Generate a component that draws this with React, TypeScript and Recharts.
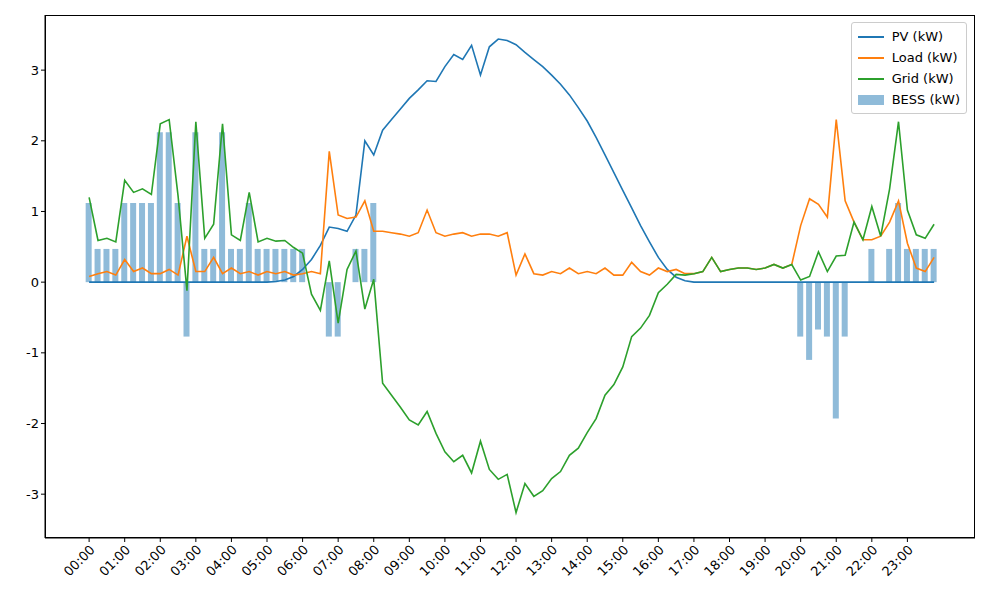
import React from 'react';
import { ComposedChart, Line, Bar, XAxis, YAxis } from 'recharts';

const pv = [0,0,0,0, 0,0,0,0, 0,0,0,0, 0,0,0,0, 0,0,0,0,
  0,0.01,0.03,0.08, 0.18,0.32,0.52,0.78, 0.76,0.72,0.95,2.0, 1.8,2.15,2.3,2.45,
  2.6,2.72,2.85,2.84, 3.05,3.22,3.15,3.35, 2.93,3.33,3.44,3.42, 3.36,3.25,3.15,3.05,
  2.93,2.8,2.65,2.47, 2.28,2.05,1.8,1.55, 1.3,1.05,0.8,0.57, 0.35,0.18,0.07,0.02,
  0,0,0,0, 0,0,0,0, 0,0,0,0, 0,0,0,0, 0,0,0,0, 0,0,0,0, 0,0,0,0];
const load = [0.08,0.12,0.15,0.1, 0.32,0.15,0.2,0.12, 0.12,0.18,0.1,0.65, 0.15,0.15,0.35,0.12,
  0.2,0.12,0.15,0.1, 0.15,0.12,0.15,0.1, 0.12,0.15,0.12,1.85, 0.95,0.9,0.92,1.15,
  0.72,0.72,0.7,0.68, 0.65,0.7,1.02,0.7, 0.65,0.68,0.7,0.65, 0.68,0.68,0.65,0.7,
  0.1,0.4,0.12,0.1, 0.15,0.12,0.2,0.12, 0.15,0.12,0.2,0.1, 0.1,0.28,0.15,0.1,
  0.2,0.15,0.18,0.12, 0.12,0.15,0.35,0.15, 0.18,0.2,0.2,0.18, 0.2,0.25,0.2,0.25,
  0.8,1.18,1.1,0.92, 2.3,1.15,0.85,0.6, 0.6,0.65,0.85,1.15, 0.55,0.2,0.15,0.35];
const grid = [1.2,0.59,0.62,0.57, 1.44,1.27,1.32,1.24, 2.24,2.3,1.22,-0.12, 2.27,0.62,0.82,2.24,
  0.67,0.59,1.27,0.57, 0.62,0.58,0.59,0.49, 0.41,-0.17,-0.4,0.3, -0.58,0.18,0.44,-0.38,
  0.04,-1.43,-1.6,-1.77, -1.95,-2.02,-1.83,-2.14, -2.4,-2.54,-2.45,-2.7, -2.25,-2.65,-2.79,-2.72,
  -3.26,-2.85,-3.03,-2.95, -2.78,-2.68,-2.45,-2.35, -2.13,-1.93,-1.6,-1.45, -1.2,-0.77,-0.65,-0.47,
  -0.15,-0.03,0.11,0.1, 0.12,0.15,0.35,0.15, 0.18,0.2,0.2,0.18, 0.2,0.25,0.2,0.25,
  0.03,0.08,0.43,0.15, 0.37,0.38,0.85,0.6, 1.07,0.65,1.32,2.27, 1.02,0.67,0.62,0.82];
const bess = [1.12,0.47,0.47,0.47, 1.12,1.12,1.12,1.12, 2.12,2.12,1.12,-0.77, 2.12,0.47,0.47,2.12,
  0.47,0.47,1.12,0.47, 0.47,0.47,0.47,0.47, 0.47,0,0,-0.77, -0.77,0,0.47,0.47,
  1.12,0,0,0, 0,0,0,0, 0,0,0,0, 0,0,0,0, 0,0,0,0, 0,0,0,0, 0,0,0,0, 0,0,0,0,
  0,0,0,0, 0,0,0,0, 0,0,0,0, 0,0,0,0,
  -0.77,-1.1,-0.67,-0.77, -1.93,-0.77,0,0, 0.47,0,0.47,1.12, 0.47,0.47,0.47,0.47];
const hourTicks = Array.from({ length: 24 }, (_, h) => h);
const yTicks = [-3, -2, -1, 0, 1, 2, 3];
const legendItems = [
  { name: 'PV (kW)', color: '#1f77b4', bar: false },
  { name: 'Load (kW)', color: '#ff7f0e', bar: false },
  { name: 'Grid (kW)', color: '#2ca02c', bar: false },
  { name: 'BESS (kW)', color: '#1f77b4', bar: true },
];

const data = pv.map((p, i) => ({ t: i * 0.25, pv: p, load: load[i], grid: grid[i], bess: bess[i] }));

const fmt = (h: number) => `${String(h).padStart(2, '0')}:00`;

export default function App() {
  return (
    <div style={{ position: 'relative', width: 984, height: 584, fontFamily: 'DejaVu Sans' }}>
      <ComposedChart width={984} height={584} data={data} margin={{ top: 7, right: 17, left: 0, bottom: 4 }}>
        <XAxis dataKey="t" type="number" domain={[-1.24, 24.9]} ticks={hourTicks} tickFormatter={fmt}
          angle={-45} textAnchor="end" height={50} interval={0}
          tick={{ fill: '#000', fontSize: 13 }} stroke="#000" tickSize={4} />
        <YAxis type="number" domain={[-3.62, 3.78]} ticks={yTicks} width={37}
          tick={{ fill: '#000', fontSize: 13 }} stroke="#000" tickSize={4} />
        <Bar dataKey="bess" fill="#1f77b4" fillOpacity={0.5} barSize={6} isAnimationActive={false} />
        <Line dataKey="pv" stroke="#1f77b4" strokeWidth={1.6} dot={false} isAnimationActive={false} />
        <Line dataKey="load" stroke="#ff7f0e" strokeWidth={1.6} dot={false} isAnimationActive={false} />
        <Line dataKey="grid" stroke="#2ca02c" strokeWidth={1.6} dot={false} isAnimationActive={false} />
      </ComposedChart>
      <div style={{ position: 'absolute', left: 37, top: 7, width: 930, height: 523, border: '1px solid #000', boxSizing: 'border-box', pointerEvents: 'none' }} />
      <div style={{ position: 'absolute', right: 25, top: 14, border: '1px solid #ccc', borderRadius: 3, background: 'rgba(255,255,255,0.8)', padding: '3px 6px', fontSize: 13 }}>
        {legendItems.map((it) => (
          <div key={it.name} style={{ display: 'flex', alignItems: 'center', height: 21 }}>
            {it.bar ? (
              <div style={{ width: 26, height: 10, background: it.color, opacity: 0.5, marginRight: 8 }} />
            ) : (
              <div style={{ width: 26, height: 2, background: it.color, marginRight: 8 }} />
            )}
            <span>{it.name}</span>
          </div>
        ))}
      </div>
    </div>
  );
}
